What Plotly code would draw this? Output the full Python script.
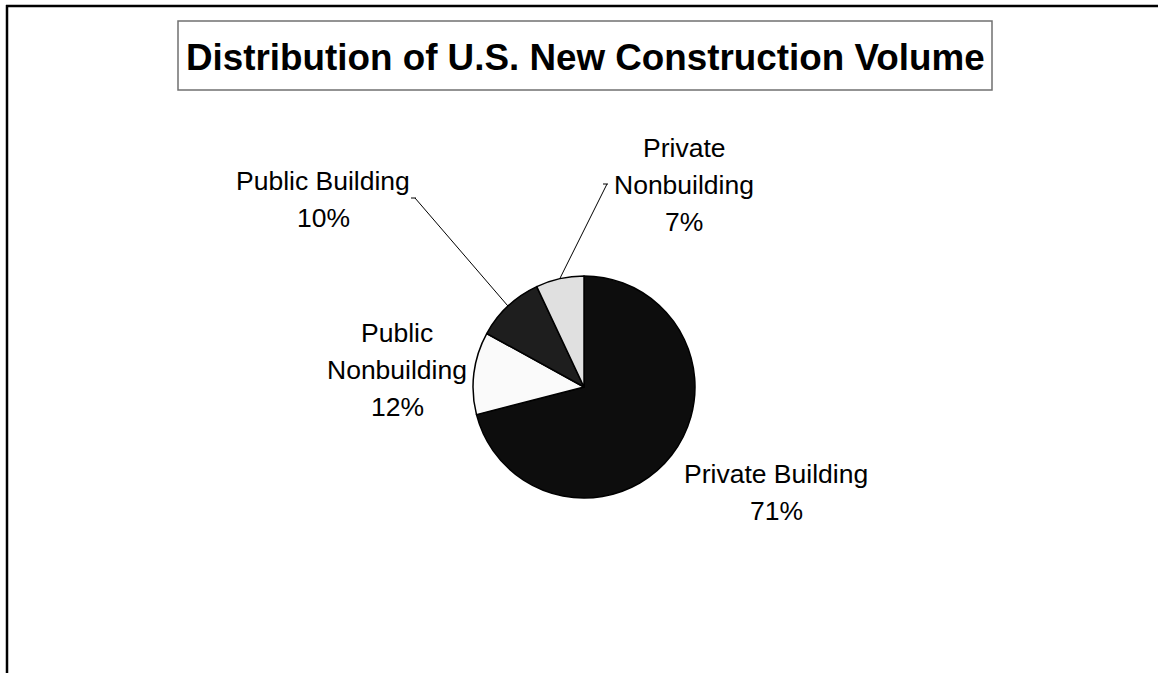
import math
import plotly.graph_objects as go

# Share of U.S. new construction volume, in percent
segments = ["Private Building", "Public Nonbuilding", "Public Building", "Private Nonbuilding"]
shares = [71, 12, 10, 7]
slice_colors = ["#0d0d0d", "#fafafa", "#1e1e1e", "#e0e0e0"]

W, H = 1158, 673
# pie placement in pixels
CX, CY, R = 584, 387, 111

# label anchors (pixel centres) and line layout per segment
label_pos = {
    "Private Building": (776, 474, ["Private Building"]),
    "Public Nonbuilding": (397, 333, ["Public", "Nonbuilding"]),
    "Public Building": (323, 181, ["Public Building"]),
    "Private Nonbuilding": (684, 148, ["Private", "Nonbuilding"]),
}
# segments whose labels get a leader line: label end point of the line
leaders = {
    "Public Building": (415, 198),
    "Private Nonbuilding": (607, 184),
}

def px(x):
    return x / W

def py(y):
    return 1 - y / H

fig = go.Figure(
    go.Pie(
        labels=segments,
        values=shares,
        sort=False,
        direction="clockwise",
        rotation=0,
        textinfo="none",
        hoverinfo="label+percent",
        marker=dict(colors=slice_colors, line=dict(color="#000000", width=1.5)),
        domain=dict(x=[px(CX - R), px(CX + R)], y=[py(CY + R), py(CY - R)]),
        showlegend=False,
    )
)

annotations = []
shapes = []
FONT = "Liberation Sans, Arial, sans-serif"
LINE_GAP = 37

total = sum(shares)
cum = 0
for name, val in zip(segments, shares):
    pct = round(100 * val / total)
    mid = (cum + val / 2) / total * 2 * math.pi
    cum += val
    x0, y0, lines = label_pos[name]
    for i, t in enumerate(lines + [f"{pct}%"]):
        annotations.append(dict(
            x=px(x0), y=py(y0 + i * LINE_GAP), xref="paper", yref="paper",
            text=t, showarrow=False, xanchor="center", yanchor="middle",
            font=dict(family=FONT, size=26.5, color="#000000"),
        ))
    if name in leaders:
        lx, ly = leaders[name]
        ex = CX + R * math.sin(mid)
        ey = CY - R * math.cos(mid)
        shapes.append(dict(type="line", xref="paper", yref="paper",
                           x0=px(lx), y0=py(ly), x1=px(ex), y1=py(ey),
                           line=dict(color="#000000", width=1)))
        shapes.append(dict(type="line", xref="paper", yref="paper",
                           x0=px(lx - 4), y0=py(ly), x1=px(lx + 1), y1=py(ly),
                           line=dict(color="#000000", width=1)))

# title with its framed box
annotations.append(dict(
    x=px(586), y=py(57), xref="paper", yref="paper",
    text="<b>Distribution of U.S. New Construction Volume</b>", showarrow=False,
    xanchor="center", yanchor="middle",
    font=dict(family=FONT, size=36.8, color="#000000"),
))
shapes.append(dict(type="rect", xref="paper", yref="paper",
                   x0=px(178), y0=py(90), x1=px(992), y1=py(21),
                   line=dict(color="#707070", width=1.5)))

# chart-area frame along the top and left edges
shapes.append(dict(type="line", xref="paper", yref="paper",
                   x0=px(6), y0=py(6), x1=px(W), y1=py(6),
                   line=dict(color="#000000", width=2.5)))
shapes.append(dict(type="line", xref="paper", yref="paper",
                   x0=px(7), y0=py(5), x1=px(7), y1=py(H),
                   line=dict(color="#000000", width=2.5)))

fig.update_layout(
    width=W, height=H,
    margin=dict(l=0, r=0, t=0, b=0),
    paper_bgcolor="#ffffff",
    plot_bgcolor="#ffffff",
    annotations=annotations,
    shapes=shapes,
)

fig.write_html("out.html")
